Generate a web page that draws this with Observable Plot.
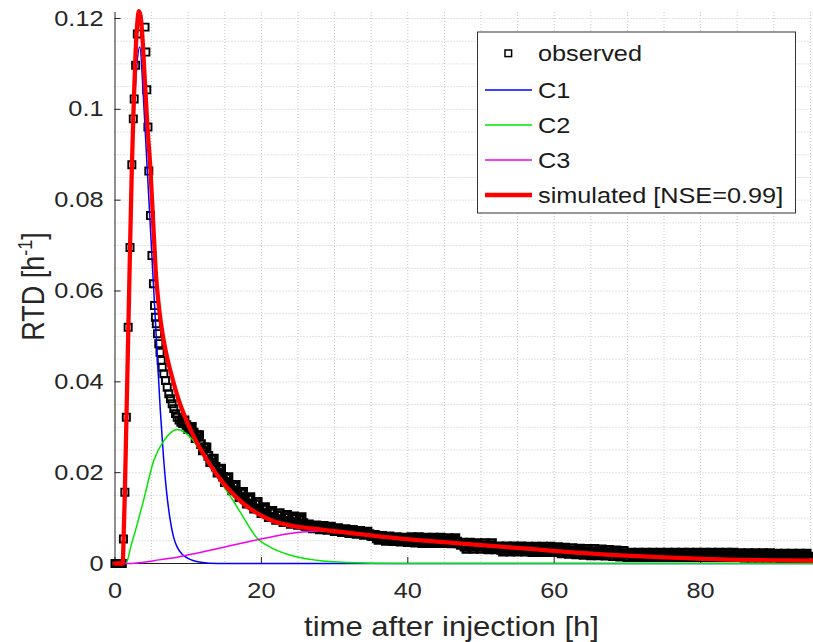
<!DOCTYPE html>
<html><head><meta charset="utf-8">
<script src="https://cdn.jsdelivr.net/npm/d3@7"></script>
<script src="https://cdn.jsdelivr.net/npm/@observablehq/plot@0.6"></script>
<style>body{margin:0;background:#fff;} #chart{width:813px;height:642px;}</style>
</head><body><div id="chart"></div>
<script>
// ---------- data ----------
const xTicks = [0, 20, 40, 60, 80];
const xTickLabels = ["0", "20", "40", "60", "80"];
const yTicks = [0, 0.02, 0.04, 0.06, 0.08, 0.1, 0.12];
const yTickLabels = ["0", "0.02", "0.04", "0.06", "0.08", "0.1", "0.12"];
const xGrid = [5,10,15,20,25,30,35,40,45,50,55,60,65,70,75,80,85,90,95];
const yGrid = [0.005,0.01,0.015,0.02,0.025,0.03,0.035,0.04,0.045,0.05,0.055,0.06,0.065,0.07,0.075,0.08,0.085,0.09,0.095,0.1,0.105,0.11,0.115,0.12];

// observed: early part (explicit times)
const obsEarlyT = [0,0.25,0.5,0.75,1.0,1.15,1.35,1.55,1.8,2.05,2.3,2.5,2.62,2.82,3.05,4.1,4.22,4.34,4.5,4.62,4.85,5.05,5.25,5.4,5.52,5.65,5.8,5.98,6.15,6.31,6.45,6.67,6.9,7.13,7.35,7.58,7.81,8.03,8.27,8.5,8.75,9.0,9.25];
const obsEarlyV = [0,0,0,0,0,0.0054,0.0157,0.0322,0.052,0.0696,0.0878,0.0979,0.1023,0.1097,0.1166,0.1181,0.1126,0.1043,0.0961,0.0864,0.0766,0.0678,0.0616,0.0568,0.0542,0.0528,0.0506,0.0484,0.0465,0.0447,0.0432,0.0418,0.0403,0.0388,0.0374,0.0363,0.0352,0.0341,0.033,0.0322,0.0316,0.0311,0.0308];
// observed: tail, sampled every 0.25 h from 9.5 h to 95 h
const obsTailStart = 9.5, obsTailStep = 0.25;
const obsTailV = [
// 9.5 - 20
0.0315,0.0305,0.0296,0.0299,0.0301,0.0288,0.0276,0.0283,0.0283,0.0263,0.0249,0.0256,0.0256,0.0237,0.0223,0.023,0.0231,0.0213,0.02,0.0208,0.0209,0.0191,0.0179,0.0188,0.019,0.0173,0.0161,0.017,0.0173,0.0156,0.0146,0.0155,0.0158,0.0142,0.0132,0.0142,0.0146,0.013,0.0121,0.0131,0.0136,0.0121,0.0111,
// 20.25 - 26
0.012,0.0124,0.011,0.0102,0.0112,0.0116,0.0103,0.0096,0.0106,0.0111,0.0098,0.0091,0.0102,0.0107,0.0094,0.0087,0.0099,0.0104,0.0091,0.0085,0.0096,0.0102,0.0089,0.0083,
// 26.25 - 35
0.0083,0.0086,0.008,0.0077,0.0081,0.0084,0.0079,0.0075,0.008,0.0083,0.0077,0.0074,0.0078,0.0081,0.0075,0.0071,0.0076,0.0078,0.0073,0.0069,0.0074,0.0076,0.0071,0.0067,0.0072,0.0074,0.0069,0.0065,0.007,0.0072,0.0067,0.0063,0.0068,0.007,0.0065,0.0061,
// 35.25 - 40
0.006,0.0063,0.0055,0.0052,0.0058,0.0061,0.0054,0.005,0.0057,0.006,0.0052,0.0049,0.0056,0.0058,0.0051,0.0048,0.0055,0.0057,0.005,0.0047,
// 40.25 - 47
0.0054,0.0058,0.005,0.0046,0.0054,0.0058,0.0049,0.0045,0.0053,0.0057,0.0049,0.0045,0.0053,0.0057,0.0049,0.0045,0.0053,0.0057,0.0049,0.0045,0.0052,0.0056,0.0048,0.0044,0.0052,0.0056,0.0048,0.0044,
// 47.25 - 52
0.0041,0.0046,0.0037,0.0032,0.0041,0.0046,0.0037,0.0032,0.0041,0.0045,0.0037,0.0032,0.004,0.0045,0.0036,0.0031,0.004,0.0045,0.0036,0.0031,
// 52.25 - 60
0.0034,0.0038,0.003,0.0026,0.0034,0.0038,0.003,0.0026,0.0034,0.0038,0.003,0.0026,0.0034,0.0038,0.003,0.0026,
0.0033,0.0037,0.0029,0.0025,0.0033,0.0037,0.0029,0.0025,0.0033,0.0037,0.0029,0.0025,0.0033,0.0037,0.0029,0.0025,
// 60.25 - 70
0.0031,0.0036,0.0027,0.0022,0.003,0.0035,0.0026,0.0021,0.0029,0.0034,0.0025,0.002,0.0028,0.0033,0.0024,0.0019,0.0027,0.0032,0.0023,0.0018,
0.0027,0.0032,0.0023,0.0018,0.0026,0.0031,0.0022,0.0017,0.0025,0.003,0.0021,0.0016,0.0024,0.0029,0.002,0.0015,0.0023,0.0028,0.0019,0.0014,
// 70.25 - 85
0.0021,0.0024,0.0017,0.0014,0.0021,0.0024,0.0017,0.0014,0.0021,0.0024,0.0017,0.0014,0.0021,0.0024,0.0017,0.0014,0.0021,0.0024,0.0017,0.0014,
0.0021,0.0024,0.0017,0.0014,0.0021,0.0024,0.0017,0.0014,0.0021,0.0024,0.0017,0.0014,0.0021,0.0024,0.0017,0.0014,0.0021,0.0024,0.0017,0.0014,
0.0021,0.0024,0.0017,0.0014,0.0021,0.0024,0.0017,0.0014,0.0021,0.0024,0.0017,0.0014,0.0021,0.0024,0.0017,0.0014,0.0021,0.0024,0.0017,0.0014,
// 85.25 - 95
0.002,0.0023,0.0016,0.0013,0.002,0.0023,0.0016,0.0013,0.002,0.0023,0.0016,0.0013,0.002,0.0023,0.0016,0.0013,0.002,0.0023,0.0016,0.0013,
0.0019,0.0022,0.0015,0.0012,0.0019,0.0022,0.0015,0.0012,0.0019,0.0022,0.0015,0.0012,0.0019,0.0022,0.0015,0.0012,0.0019,0.0022,0.0015,0.0012];

// model components
const c1T = [0,1.05,1.2,1.5,2.0,2.5,3.0,3.4,3.8,4.2,4.6,5.0,5.4,5.8,6.2,6.6,7.0,7.5,8.0,8.5,9.2,9.9,11.7,14,95.42];
const c1V = [0,0,0.004,0.024,0.062,0.094,0.11,0.1137,0.105,0.093,0.081,0.069,0.057,0.045,0.0335,0.024,0.0165,0.01,0.0058,0.0036,0.002,0.0012,0.0003,0,0];
const c2T = [0,1.5,1.7,2.2,2.8,3.9,5.3,6.7,7.6,8.5,9.4,10.3,11.5,13,14.5,16,17.6,19.3,21.2,24,27.6,32,38,95.42];
const c2V = [0,0,0.0007,0.004,0.0073,0.0139,0.0227,0.0271,0.0288,0.0295,0.029,0.0278,0.0252,0.0215,0.0178,0.0142,0.01,0.0058,0.0036,0.0018,0.0007,0.0002,0,0];
const c3T = [0,2,3.9,6,8.5,11,13,16,18.5,21.2,23,25.3,27,28.5,30,32.2,35,39,45.8,52.7,56.8,62,69,76,82.7,90,95.42];
const c3V = [0,0,0.0003,0.0008,0.0014,0.0022,0.0029,0.004,0.0049,0.0058,0.0064,0.0069,0.0071,0.0072,0.0071,0.0067,0.0062,0.0055,0.0046,0.0037,0.0032,0.0025,0.0018,0.0013,0.0009,0.0007,0.0006];
const simT = [0,1.05,1.15,1.35,1.55,1.8,2.05,2.3,2.55,2.8,3.05,3.25,3.5,3.8,4.1,4.44,4.85,5.25,5.6,6.0,6.5,7.1,7.8,8.6,9.5,10.5,11.5,13,14.5,16,17.6,19.5,21.5,23.5,25.3,27.5,30,32.2,35,39,45.8,52.7,56.8,62,69,76,82.7,90,95.42];
const simV = [0,0,0.004,0.016,0.031,0.05,0.069,0.087,0.101,0.112,0.119,0.1216,0.1205,0.1145,0.1055,0.096,0.0865,0.074,0.0635,0.0565,0.0505,0.0455,0.041,0.0365,0.0325,0.0288,0.0257,0.0217,0.0183,0.0155,0.0131,0.011,0.0094,0.0085,0.008,0.0076,0.0071,0.0067,0.0062,0.0055,0.0046,0.0037,0.0032,0.0025,0.0018,0.0013,0.0009,0.0007,0.0006];

const legendLabels = ["observed", "C1", "C2", "C3", "simulated [NSE=0.99]"];
const xLabel = "time after injection [h]";

// ---------- build tables ----------
const zip = (T, V) => T.map((t, i) => ({t, v: V[i]}));
const obsEarly = zip(obsEarlyT, obsEarlyV);
const obsTail = obsTailV.map((v, i) => ({t: obsTailStart + obsTailStep * i, v}));
const c1 = zip(c1T, c1V), c2 = zip(c2T, c2V), c3 = zip(c3T, c3V), sim = zip(simT, simV);

const FONT = "'Liberation Sans', Arial, Helvetica, sans-serif";
const COL = {c1: "#0000ff", c2: "#00e600", c3: "#f000f0", sim: "#ff0000"};
const gridStyle = {stroke: "#c6c6c6", strokeWidth: 1, strokeDasharray: "1,2"};

const svg = Plot.plot({
  width: 813, height: 642,
  marginLeft: 114.5, marginRight: 0, marginTop: 12, marginBottom: 79,
  x: {domain: [0, 95.42], axis: null},
  y: {domain: [0, 0.121321], axis: null},
  style: {fontFamily: FONT, background: "white", overflow: "visible"},
  marks: [
    Plot.ruleX(xGrid, gridStyle),
    Plot.ruleY(yGrid, gridStyle),
    Plot.ruleX([0], {stroke: "#222"}),
    Plot.ruleY([0], {stroke: "#222"}),
    Plot.tickX(xTicks, {x: d => d, stroke: "#222", insetTop: 545}),
    Plot.tickY(yTicks, {y: d => d, stroke: "#222", insetRight: 692.5}),
    Plot.text(xTicks, {x: d => d, y: 0, dy: 27, text: (d, i) => xTickLabels[i], fontSize: 22, fill: "#262626"}),
    Plot.text(yTicks, {x: 0, y: d => d, dx: -11.5, text: (d, i) => yTickLabels[i], textAnchor: "end", fontSize: 22, fill: "#262626"}),
    Plot.dot(obsEarly, {x: "t", y: "v", symbol: "square", r: 4.0, stroke: "#000", strokeWidth: 1.9, fill: "none"}),
    Plot.dot(obsTail, {x: "t", y: "v", symbol: "square", r: 4.0, stroke: "#000", strokeWidth: 2.6, fill: "none"}),
    Plot.line(c1, {x: "t", y: "v", stroke: COL.c1, strokeWidth: 1.5, curve: "monotone-x"}),
    Plot.line(c2, {x: "t", y: "v", stroke: COL.c2, strokeWidth: 1.5, curve: "monotone-x"}),
    Plot.line(c3, {x: "t", y: "v", stroke: COL.c3, strokeWidth: 1.5, curve: "monotone-x"}),
    Plot.line(sim, {x: "t", y: "v", stroke: COL.sim, strokeWidth: 4.3, curve: "monotone-x"})
  ]
});
document.getElementById("chart").append(svg);

// horizontal stretch of text like the reference
const SX = 1.15;
d3.select(svg).selectAll("text").each(function() {
  const tr = this.getAttribute("transform") || "";
  this.setAttribute("transform", tr + ` scale(${SX},1)`);
});

const root = d3.select(svg).append("g").attr("font-family", FONT).attr("fill", "#262626");
// x label
root.append("text").attr("text-anchor", "middle").attr("font-size", 27)
  .attr("transform", `translate(451.5,636) scale(${SX},1)`).text(xLabel);
// y label with superscript
const yl = root.append("text").attr("text-anchor", "middle").attr("font-size", 27).attr("dy", "0.35em")
  .attr("transform", `translate(33,286.5) rotate(-90) scale(1,${SX})`);
yl.append("tspan").text("RTD [h");
yl.append("tspan").attr("font-size", 18).attr("dy", -10).text("-1");
yl.append("tspan").attr("dy", 10).text("]");

// legend
const lg = root.append("g");
lg.append("rect").attr("x", 477.5).attr("y", 32).attr("width", 318).attr("height", 181)
  .attr("fill", "white").attr("stroke", "#333").attr("stroke-width", 1);
const rowY = [53.3, 90, 125, 160, 195];
const rowCol = [null, COL.c1, COL.c2, COL.c3, COL.sim];
const rowW = [0, 1.5, 1.5, 1.5, 4.3];
rowY.forEach((y, i) => {
  if (i === 0) {
    lg.append("rect").attr("x", 505).attr("y", y - 3.3).attr("width", 6.6).attr("height", 6.6)
      .attr("fill", "none").attr("stroke", "#000").attr("stroke-width", 1.5);
  } else {
    lg.append("line").attr("x1", 485).attr("x2", 532).attr("y1", y).attr("y2", y)
      .attr("stroke", rowCol[i]).attr("stroke-width", rowW[i]);
  }
  lg.append("text").attr("font-size", 22).attr("dy", "0.35em").attr("fill", "#1a1a1a")
    .attr("text-anchor", "start")
    .attr("transform", `translate(538,${y}) scale(${SX},1)`).text(legendLabels[i]);
});
</script></body></html>
